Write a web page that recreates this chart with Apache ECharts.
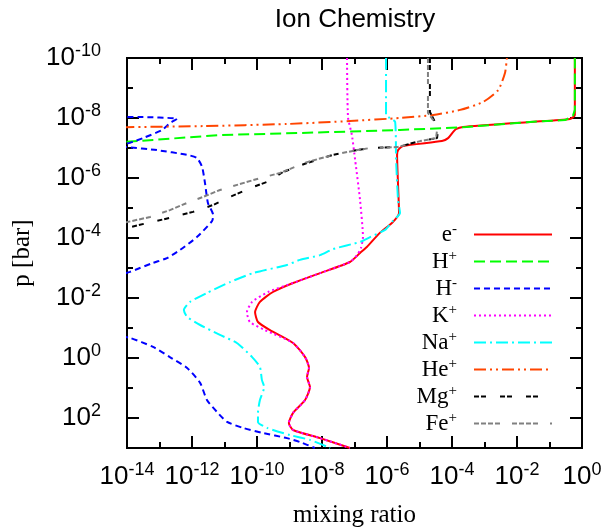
<!DOCTYPE html>
<html><head><meta charset="utf-8">
<script src="https://cdn.jsdelivr.net/npm/echarts@6/dist/echarts.min.js"></script>
<style>html,body{margin:0;padding:0;background:#fff}#c{width:607px;height:531px}</style>
</head><body><div id="c"></div>
<script>
// Values are log10 exponents: [log10(mixing ratio), log10(p / bar)]
const seriesNames = ['e-','H+','H-','K+','Na+','He+','Mg+','Fe+'];
const xTickExps = [-14,-12,-10,-8,-6,-4,-2,0];
const yTickExps = [-10,-8,-6,-4,-2,0,2];

const eMinus = [[-0.22,-10],[-0.22,-8.1],[-0.37,-7.97],[-1.6,-7.87],[-3.66,-7.7],[-3.88,-7.63],[-3.97,-7.53],[-4.12,-7.33],[-4.31,-7.23],[-5.51,-7.07],[-5.66,-6.93],[-5.69,-6.77],[-5.66,-5.77],[-5.63,-4.83],[-5.82,-4.53],[-6.22,-4.17],[-6.62,-3.7],[-6.83,-3.5],[-7.14,-3.2],[-8.06,-2.83],[-8.89,-2.5],[-9.51,-2.2],[-9.91,-1.87],[-10.06,-1.53],[-9.97,-1.2],[-9.6,-0.93],[-8.89,-0.5],[-8.52,-0.03],[-8.4,0.33],[-8.46,0.63],[-8.37,0.97],[-8.52,1.4],[-8.89,1.83],[-9.02,2.17],[-8.89,2.4],[-8.06,2.67],[-7.14,3.0]];
const hPlus = [[-15,-7.13],[-13.2,-7.27],[-11.14,-7.43],[-8.68,-7.5],[-5.6,-7.6],[-3.54,-7.7],[-1.6,-7.87],[-0.52,-7.93],[-0.28,-8.07],[-0.22,-8.27],[-0.22,-10]];
const hMinus = [[-14.6,-8.05],[-14,-8.03],[-13.51,-8.03],[-12.46,-7.97],[-12.68,-7.83],[-12.92,-7.6],[-13.51,-7.33],[-13.91,-7.17],[-14.3,-7.07],[-14,-7.03],[-13.08,-6.93],[-12.15,-6.77],[-11.85,-6.67],[-11.69,-6.37],[-11.6,-5.83],[-11.51,-5.17],[-11.35,-4.77],[-11.38,-4.57],[-11.85,-4.03],[-12.37,-3.6],[-12.77,-3.33],[-13.2,-3.17],[-13.91,-2.87],[-14.6,-2.6],[-15,-1.5],[-14.6,-0.85],[-13.91,-0.67],[-13.2,-0.37],[-12.68,-0.03],[-12.15,0.33],[-11.75,0.83],[-11.54,1.4],[-11.23,1.8],[-10.92,2.13],[-10.43,2.33],[-9.82,2.5],[-9.08,2.67],[-8.68,2.8],[-8.22,3.0]];
const kPlus = [[-7.23,-10],[-7.2,-8.03],[-7.08,-7.43],[-6.98,-6.6],[-6.83,-5.27],[-6.74,-4.03],[-6.8,-3.67],[-6.92,-3.43],[-7.14,-3.2],[-8.06,-2.83],[-8.89,-2.5],[-9.66,-2.2],[-10.15,-1.87],[-10.31,-1.53],[-10.22,-1.2],[-9.75,-0.93],[-8.89,-0.5],[-8.52,-0.03],[-8.4,0.33],[-8.46,0.63],[-8.37,0.97],[-8.52,1.4],[-8.89,1.83],[-9.02,2.17],[-8.89,2.4],[-8.06,2.67],[-7.14,3.0]];
const naPlus = [[-6.03,-10],[-6.03,-8.1],[-5.91,-8.0],[-5.75,-7.87],[-5.72,-6.6],[-5.66,-5.27],[-5.6,-4.83],[-5.82,-4.57],[-6.06,-4.27],[-6.52,-4.03],[-6.83,-3.87],[-7.66,-3.63],[-8.06,-3.43],[-8.68,-3.27],[-9.08,-3.1],[-10.12,-2.83],[-10.83,-2.53],[-11.54,-2.17],[-12.06,-1.87],[-12.25,-1.6],[-12.15,-1.37],[-11.75,-1.1],[-11.14,-0.77],[-10.62,-0.5],[-10.15,-0.03],[-9.91,0.3],[-9.85,0.73],[-9.78,0.97],[-9.91,1.4],[-9.97,1.83],[-9.97,2.13],[-9.69,2.33],[-8.98,2.57],[-8.37,2.73],[-7.75,3.0]];
const hePlus = [[-15,-7.68],[-11.66,-7.73],[-9.08,-7.8],[-7.14,-7.9],[-5.6,-8.0],[-4.58,-8.1],[-3.75,-8.27],[-3.05,-8.53],[-2.58,-8.93],[-2.37,-9.5],[-2.31,-10]];
const mgPlus = [[-4.68,-10],[-4.68,-8.2],[-4.55,-7.93],[-4.43,-7.6],[-4.46,-7.33],[-4.98,-7.23],[-5.69,-7.03],[-6.52,-7.0],[-6.92,-6.93],[-7.66,-6.77],[-8.46,-6.5],[-9.2,-6.2],[-9.69,-5.87],[-10.12,-5.7],[-10.83,-5.37],[-11.35,-5.1],[-11.97,-4.87],[-12.68,-4.67],[-13.38,-4.5],[-14,-4.33],[-14.5,-4.2]];
const fePlus = [[-4.74,-10],[-4.74,-8.17],[-4.58,-7.93],[-4.46,-7.6],[-4.49,-7.33],[-4.98,-7.23],[-5.69,-7.03],[-6.52,-7.0],[-6.92,-6.93],[-7.66,-6.77],[-8.46,-6.53],[-9.29,-6.17],[-10.12,-5.93],[-11.14,-5.6],[-11.66,-5.37],[-12.15,-5.17],[-12.68,-4.93],[-13.29,-4.7],[-14,-4.53],[-14.5,-4.45]];

const seriesData = [eMinus, hPlus, hMinus, kPlus, naPlus, hePlus, mgPlus, fePlus];
const seriesColors = ['#ff0000','#00ff00','#0000ff','#ff00ff','#00ffff','#ff4500','#000000','#808080'];
const seriesDash = ['solid',[11,5],[6,4],[2,3],[12,4,2,4],[12,4,2,4,2,4],[5,2,5,14],[5,2,5,2,5,2,5,12]];
const seriesSmooth = [0.2, 0, 0.2, 0.2, 0.2, 0.2, 0, 0];

const sansF = '"Liberation Sans", Arial, sans-serif';
const serifF = '"Liberation Serif", "Times New Roman", serif';

const tickRich = {
  b: {fontFamily: sansF, fontSize: 26, color: '#000'},
  s: {fontFamily: sansF, fontSize: 18, color: '#000', padding: [0,0,14,0]}
};
function expFmt(v){
  const r = Math.round(v);
  if (Math.abs(v - r) > 1e-6 || xTickExps.indexOf(r) < 0 && yTickExps.indexOf(r) < 0) return '';
  return '{b|10}{s|' + r + '}';
}
const black = '#000';
function mkAxis(dim, pos, major, extra){
  const isX = dim === 'x';
  const a = {
    type: 'value', position: pos,
    min: isX ? -14 : -10, max: isX ? 0 : 3,
    interval: major ? 2 : 1,
    inverse: !isX,
    axisLine: {show: true, onZero: false, lineStyle: {color: black, width: 2}},
    axisTick: {show: true, inside: true, length: major ? 12 : 6, lineStyle: {color: black, width: 2}},
    splitLine: {show: false},
    axisLabel: {show: false}
  };
  return Object.assign(a, extra || {});
}

const chart = echarts.init(document.getElementById('c'), null, {renderer: 'canvas'});
const option = {
  animation: false,
  backgroundColor: '#fff',
  title: {
    text: 'Ion Chemistry', left: 350, top: 2, textAlign: 'center',
    textStyle: {fontFamily: sansF, fontSize: 26, fontWeight: 'normal', color: '#000'}
  },
  grid: {left: 127, top: 58, right: 25, bottom: 83, containLabel: false, outerBoundsMode: 'none'},
  xAxis: [
    mkAxis('x','bottom',true,{
      axisLabel: {show: true, margin: 13, formatter: expFmt, rich: tickRich},
      name: 'mixing ratio', nameLocation: 'middle', nameGap: 55,
      nameTextStyle: {fontFamily: serifF, fontSize: 25, color: '#000'}
    }),
    mkAxis('x','bottom',false),
    mkAxis('x','top',true),
    mkAxis('x','top',false)
  ],
  yAxis: [
    mkAxis('y','left',true,{
      axisLabel: {show: true, margin: 26, formatter: expFmt, rich: tickRich},
      name: 'p [bar]', nameLocation: 'middle', nameGap: 86,
      nameTextStyle: {fontFamily: serifF, fontSize: 25, color: '#000'}
    }),
    mkAxis('y','left',false),
    mkAxis('y','right',true),
    mkAxis('y','right',false)
  ],
  legend: {
    orient: 'vertical', right: 54, top: 222, padding: 0, align: 'right',
    itemWidth: 78, itemHeight: 14, itemGap: 3, selectedMode: false,
    data: seriesNames,
    itemStyle: {opacity: 0},
    formatter: function(name){
      const base = name.slice(0, -1), sign = name.slice(-1);
      return '{b|' + base + '}{s|' + sign + '}';
    },
    textStyle: {
      fontFamily: serifF, fontSize: 23, color: '#000',
      rich: {
        b: {fontFamily: serifF, fontSize: 23, color: '#000'},
        s: {fontFamily: serifF, fontSize: 15, color: '#000', padding: [0,12,10,0]}
      }
    }
  },
  series: seriesNames.map(function(n, i){
    return {
      name: n, type: 'line', xAxisIndex: 0, yAxisIndex: 0,
      data: seriesData[i], symbol: 'none', showSymbol: false, clip: true,
      smooth: seriesSmooth[i],
      z: 2 + i,
      lineStyle: {color: seriesColors[i], width: 2, type: seriesDash[i]},
      itemStyle: {color: seriesColors[i]}
    };
  })
};
chart.setOption(option);
</script>
</body></html>
